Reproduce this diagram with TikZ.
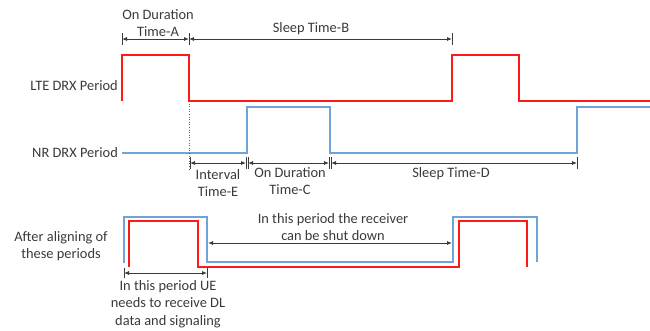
\documentclass[tikz,border=0pt]{standalone}
\usepackage{fontspec}
\setmainfont{Carlito}
\usetikzlibrary{arrows.meta}
\definecolor{lte}{HTML}{FF1A1A}
\definecolor{nr}{HTML}{6FA3DC}
\definecolor{ink}{HTML}{3A3A3A}
\begin{document}
\begin{tikzpicture}[x=1pt,y=-1pt,
  lbl/.style={text=ink,font=\fontsize{14.4}{17.5}\selectfont,align=center,inner sep=0pt},
  ltewave/.style={draw=lte,line width=1.8pt,line join=miter},
  nrwave/.style={draw=nr,line width=1.8pt,line join=miter},
  dim/.style={draw=ink,line width=0.8pt,{Latex[length=5pt,width=4pt]}-{Latex[length=5pt,width=4pt]}},
  tick/.style={draw=ink,line width=0.8pt}]
\useasboundingbox (0,0) rectangle (650,330);

% row labels
\node[lbl,anchor=east] (lteLbl) at (118,86) {LTE DRX Period};
\node[lbl,anchor=east] (nrLbl) at (118,153) {NR DRX Period};
\node[lbl] (alignLbl) at (61,246) {After aligning of\\these periods};

% LTE DRX waveform
\draw[ltewave] (122,101) -- (122,55) -- (189,55) -- (189,101) -- (452,101)
  -- (452,55) -- (519,55) -- (519,101) -- (650,101);
% NR DRX waveform
\draw[nrwave] (122,153) -- (247,153) -- (247,107) -- (330,107) -- (330,153)
  -- (577,153) -- (577,107) -- (650,107);

% end of LTE on duration, carried down to the lower dimensions
\coordinate (lteOff) at (189,101);
\coordinate (lteOffLow) at (189,170);
\draw[ink!80,line width=0.6pt,dotted] (lteOff) -- (lteOffLow);

% upper dimensions
\coordinate (a1) at (122,39); \coordinate (a2) at (189,39); \coordinate (b2) at (452,39);
\foreach \p in {a1,a2,b2} \draw[tick] ([yshift=-6pt]\p) -- ([yshift=6pt]\p);
\draw[dim] (a1) -- (a2);
\draw[dim] (a2) -- (b2);
\node[lbl] (tA) at (158,23) {On Duration\\Time-A};
\node[lbl] (tB) at (311,29) {Sleep Time-B};

% lower dimensions
\coordinate (e1) at (190,163); \coordinate (e2) at (246,163);
\coordinate (c1) at (248,163); \coordinate (c2) at (329,163);
\coordinate (d1) at (331,163); \coordinate (d2) at (577,163);
\foreach \p in {e1,e2,c1,c2,d1,d2} \draw[tick] ([yshift=-6pt]\p) -- ([yshift=6pt]\p);
\draw[dim] (e1) -- (e2);
\draw[dim] (c1) -- (c2);
\draw[dim] (d1) -- (d2);
\node[lbl] (tE) at (218,183) {Interval\\Time-E};
\node[lbl] (tC) at (290,181) {On Duration\\Time-C};
\node[lbl] (tD) at (451,174) {Sleep Time-D};

% aligned periods
\draw[nrwave] (124,263) -- (124,217) -- (207,217) -- (207,262) -- (453,262)
  -- (453,217) -- (537,217) -- (537,262);
\draw[ltewave] (129,267) -- (129,221) -- (198,221) -- (198,267) -- (459,267)
  -- (459,221) -- (527,221) -- (527,267);

% receiver off span
\coordinate (s1) at (208,243); \coordinate (s2) at (452,243);
\draw[dim] (s1) -- (s2);
\node[lbl] (tOff) at (333,227) {In this period the receiver\\can be shut down};

% UE active span
\coordinate (u1) at (124,273); \coordinate (u2) at (207,273);
\foreach \p in {u1,u2} \draw[tick] ([yshift=-5pt]\p) -- ([yshift=5pt]\p);
\draw[dim] (u1) -- (u2);
\node[lbl] (tOn) at (168,304) {In this period UE\\needs to receive DL\\data and signaling};
\end{tikzpicture}
\end{document}
